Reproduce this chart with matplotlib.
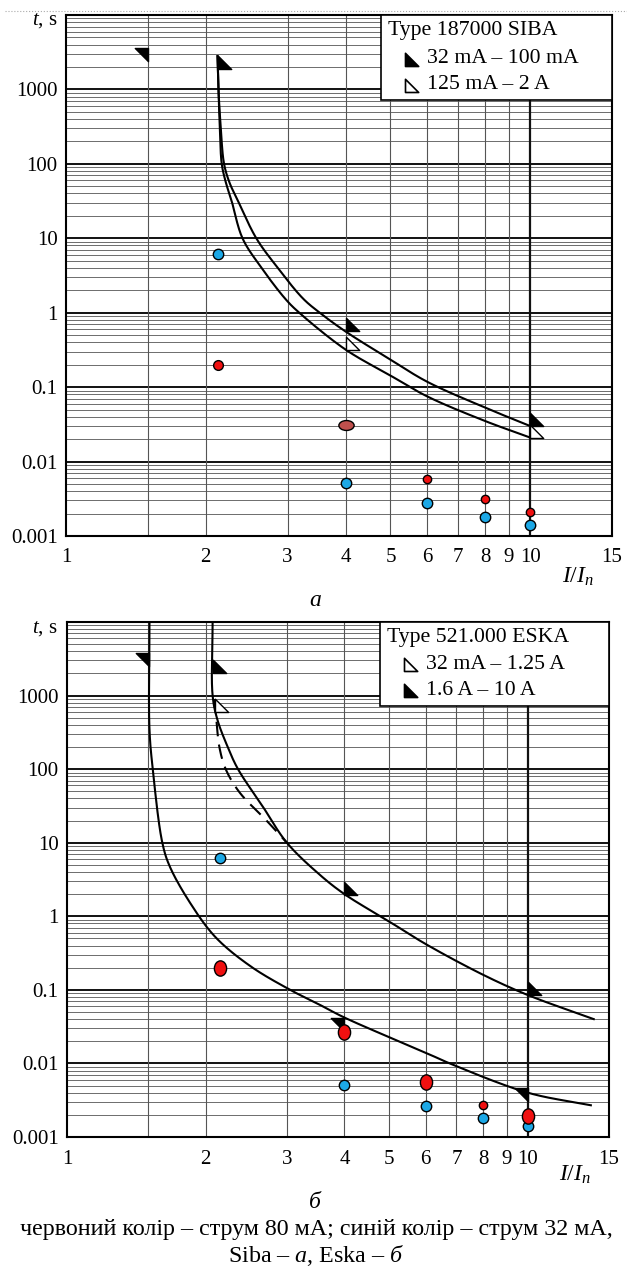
import numpy as np
import matplotlib.pyplot as plt
from matplotlib.markers import MarkerStyle
from matplotlib.path import Path
from matplotlib.patches import Rectangle
from matplotlib.transforms import Affine2D
from matplotlib.lines import Line2D

plt.rcParams['font.family'] = ['Liberation Serif', 'DejaVu Serif', 'DejaVu Sans']
plt.rcParams['mathtext.fontset'] = 'custom'
plt.rcParams['mathtext.rm'] = 'Liberation Serif'
plt.rcParams['mathtext.it'] = 'Liberation Serif:italic'

FS = 15
FS_LEG = 15.7
FS_CAP = 17.3

# ---------------- data: panel a (SIBA) ----------------
a_upper_x = [2.12, 2.13, 2.155, 2.19, 2.25, 2.34, 2.57, 2.85, 3.24, 3.52, 4.0, 5.0, 6.0, 8.0, 10.0]
a_upper_t = [2800, 1000, 300, 100, 56, 33, 10, 4.1, 1.55, 1.0, 0.56, 0.234, 0.118, 0.053, 0.030]
a_lower_x = [2.12, 2.13, 2.145, 2.165, 2.21, 2.27, 2.40, 2.63, 2.98, 3.18, 4.0, 5.0, 6.0, 8.0, 10.0]
a_lower_t = [2800, 1000, 300, 100, 56, 33, 10, 4.1, 1.49, 1.0, 0.32, 0.143, 0.075, 0.035, 0.021]
a_black_tri_x = [2.12, 4.0, 10.0]
a_black_tri_t = [1900, 0.56, 0.030]
a_white_tri_x = [4.0, 10.0]
a_white_tri_t = [0.32, 0.021]
a_stray_x = [1.5]
a_stray_t = [3600]

a_red_x = [2.13, 6, 8, 10]
a_red_t = [0.20, 0.0059, 0.0031, 0.0021]
a_brown_x = [4]
a_brown_t = [0.031]
a_blue_x = [2.13, 4, 6, 8, 10]
a_blue_t = [6.2, 0.0052, 0.0028, 0.0018, 0.0014]

# ---------------- data: panel b (ESKA) ----------------
b_left_x = [1.51, 1.51, 1.535, 1.61, 1.67, 1.85, 2.1, 2.5, 3.05, 3.53, 4.0, 6.0, 6.85, 10.0, 13.7]
b_left_t = [10000, 345, 100, 10, 4.8, 1.52, 0.52, 0.21, 0.1, 0.063, 0.042, 0.014, 0.0097, 0.0040, 0.0027]
b_right_x = [2.07, 2.07, 2.12, 2.23, 2.35, 2.66, 3.0, 3.53, 4.0, 5.0, 6.0, 8.0, 10.0, 13.9]
b_right_t = [10000, 1000, 470, 203, 100, 31, 10, 3.7, 2.0, 0.85, 0.42, 0.16, 0.085, 0.040]
b_dash_x = [2.09, 2.11, 2.14, 2.21, 2.37, 2.71, 3.0]
b_dash_t = [900, 470, 203, 100, 48, 20, 10]
b_black_tri_x = [2.07, 4.0, 10.0]
b_black_tri_t = [2000, 1.96, 0.085]
b_white_tri_x = [2.09]
b_white_tri_t = [590]
b_ur_tri_x = [1.51, 4.0, 10.0]
b_ur_tri_t = [3800, 0.042, 0.0047]

b_red_x = [2.15, 4, 6, 10]
b_red_t = [0.20, 0.027, 0.0056, 0.0019]
b_red_small_x = [8]
b_red_small_t = [0.0027]
b_blue_x = [2.15, 4, 6, 8, 10]
b_blue_t = [6.25, 0.0051, 0.0026, 0.0018, 0.0014]

x_ticks = [1, 2, 3, 4, 5, 6, 7, 8, 9, 10, 15]
x_grid = [1.5, 2, 3, 4, 5, 6, 7, 8, 9]
y_ticks = [1e-3, 1e-2, 1e-1, 1, 10, 100, 1000]
y_labels = ['0.001', '0.01', '0.1', '1', '10', '100', '1000']

BLUE = '#1ca8e6'
RED = '#f01010'
BROWN = '#c0504d'

W, H = 627, 1268
tri_ll = MarkerStyle(Path([(0, 0), (0, 1), (1, 0), (0, 0)], [1, 2, 2, 79]))
tri_ur = MarkerStyle(Path([(0, 0), (-1, 0), (0, -1), (0, 0)], [1, 2, 2, 79]))
ell_wide = MarkerStyle('o', transform=Affine2D().scale(1.0, 0.65))
ell_tall = MarkerStyle('o', transform=Affine2D().scale(0.8, 1.0))

fig = plt.figure(figsize=(W / 100, H / 100), dpi=100)


def px_axes(x0, y0, x1, y1):
    return fig.add_axes([x0 / W, 1 - y1 / H, (x1 - x0) / W, (y1 - y0) / H])


def ftext(x, y, s, **kw):
    fig.text(x / W, 1 - y / H, s, **kw)


def smooth(x, t, n=25, kx=6.25):
    # centripetal Catmull-Rom through the read points, in log-log space
    P = np.column_stack([np.log10(x) * kx, np.log10(t)])
    P = np.vstack([2 * P[0] - P[1], P, 2 * P[-1] - P[-2]])
    out = []
    for i in range(1, len(P) - 2):
        p0, p1, p2, p3 = P[i - 1:i + 3]
        t0 = 0.0
        t1 = t0 + np.linalg.norm(p1 - p0) ** 0.5
        t2 = t1 + np.linalg.norm(p2 - p1) ** 0.5
        t3 = t2 + np.linalg.norm(p3 - p2) ** 0.5
        s = np.linspace(t1, t2, n, endpoint=False)[:, None]
        A1 = (t1 - s) / (t1 - t0) * p0 + (s - t0) / (t1 - t0) * p1
        A2 = (t2 - s) / (t2 - t1) * p1 + (s - t1) / (t2 - t1) * p2
        A3 = (t3 - s) / (t3 - t2) * p2 + (s - t2) / (t3 - t2) * p3
        B1 = (t2 - s) / (t2 - t0) * A1 + (s - t0) / (t2 - t0) * A2
        B2 = (t3 - s) / (t3 - t1) * A2 + (s - t1) / (t3 - t1) * A3
        out.append((t2 - s) / (t2 - t1) * B1 + (s - t1) / (t2 - t1) * B2)
    out.append(P[-2][None])
    C = np.vstack(out)
    return 10 ** (C[:, 0] / kx), 10 ** C[:, 1]


def setup(ax):
    ax.set_xscale('log')
    ax.set_yscale('log')
    ax.set_xlim(1, 15)
    ax.set_ylim(1e-3, 1e4)
    for dec in range(-3, 4):
        for k in range(2, 10):
            ax.axhline(k * 10.0 ** dec, color='#555555', lw=0.6, zorder=1)
        ax.axhline(10.0 ** dec, color='#111111', lw=1.4, zorder=1)
    for xv in x_grid:
        ax.axvline(xv, color='#555555', lw=0.8, zorder=1)
    ax.axvline(10, color='#111111', lw=1.6, zorder=1)
    ax.set_xticks(x_ticks)
    ax.set_xticklabels([str(v) for v in x_ticks])
    ax.set_yticks(y_ticks)
    ax.set_yticklabels(y_labels)
    ax.minorticks_off()
    ax.tick_params(length=0, labelsize=FS)
    ax.tick_params(axis='x', pad=9)
    ax.tick_params(axis='y', pad=6)
    for sp in ax.spines.values():
        sp.set_linewidth(1.5)


def legend_box(ax, title, items):
    ax.add_patch(Rectangle((0.577, 0.836), 0.423, 0.164, transform=ax.transAxes,
                           facecolor='white', edgecolor='black', lw=1.2, zorder=5))
    ax.text(0.590, 0.970, title, transform=ax.transAxes, fontsize=FS_LEG, va='center', zorder=6)
    for (yy, filled, label) in items:
        ax.plot([0.621], [yy - 0.013], marker=tri_ll, ms=19, transform=ax.transAxes,
                mfc='black' if filled else 'white', mec='black', mew=1.2, zorder=6, clip_on=False)
        ax.text(0.662, yy, label, transform=ax.transAxes, fontsize=FS_LEG, va='center', zorder=6)


def dots(ax, x, t, color, ms, marker='o'):
    ax.plot(x, t, ls='none', marker=marker, ms=ms, mfc=color, mec='black', mew=1.0, zorder=4)


def curve(ax, x, t, **kw):
    sx, st = smooth(x, t)
    ax.plot(sx, st, color='black', lw=1.5, zorder=3, **kw)


# ---------------- panel a ----------------
ax1 = px_axes(66, 15, 612, 536)
setup(ax1)
curve(ax1, a_upper_x, a_upper_t)
curve(ax1, a_lower_x, a_lower_t)
ax1.plot(a_black_tri_x, a_black_tri_t, ls='none', marker=tri_ll, ms=19, mfc='black', mec='black', zorder=3)
ax1.plot(a_white_tri_x, a_white_tri_t, ls='none', marker=tri_ll, ms=19, mfc='white', mec='black', mew=1.0, zorder=3)
ax1.plot(a_stray_x, a_stray_t, ls='none', marker=tri_ur, ms=19, mfc='black', mec='black', zorder=3)
dots(ax1, a_blue_x, a_blue_t, BLUE, 7.5)
dots(ax1, a_red_x[:1], a_red_t[:1], RED, 7)
dots(ax1, a_red_x[1:], a_red_t[1:], RED, 6)
dots(ax1, a_brown_x, a_brown_t, BROWN, 11, ell_wide)
legend_box(ax1, 'Type 187000 SIBA',
           [(0.916, True, '32 mA – 100 mA'), (0.866, False, '125 mA – 2 A')])

# ---------------- panel b ----------------
ax2 = px_axes(67, 622, 609, 1137)
setup(ax2)
curve(ax2, b_left_x, b_left_t)
curve(ax2, b_right_x, b_right_t)
curve(ax2, b_dash_x, b_dash_t, ls=(0, (7, 4)))
ax2.plot(b_black_tri_x, b_black_tri_t, ls='none', marker=tri_ll, ms=19, mfc='black', mec='black', zorder=3)
ax2.plot(b_white_tri_x, b_white_tri_t, ls='none', marker=tri_ll, ms=19, mfc='white', mec='black', mew=1.0, zorder=3)
ax2.plot(b_ur_tri_x, b_ur_tri_t, ls='none', marker=tri_ur, ms=19, mfc='black', mec='black', zorder=3)
dots(ax2, b_blue_x, b_blue_t, BLUE, 7.5)
dots(ax2, b_red_x, b_red_t, RED, 11, ell_tall)
dots(ax2, b_red_small_x, b_red_small_t, RED, 6)
legend_box(ax2, 'Type 521.000 ESKA',
           [(0.917, False, '32 mA – 1.25 A'), (0.867, True, '1.6 A – 10 A')])

# ---------------- labels ----------------
ftext(58, 20, r'$t$, s', fontsize=FS, ha='right', va='center')
ftext(58, 628, r'$t$, s', fontsize=FS, ha='right', va='center')
ftext(578, 577, r'$I/I_n$', fontsize=FS + 2, ha='center', va='center')
ftext(575, 1175, r'$I/I_n$', fontsize=FS + 2, ha='center', va='center')
ftext(315, 601, 'a', fontsize=FS + 2, style='italic', ha='center', va='center')
ftext(315, 1202, 'б', fontsize=FS + 2, style='italic', ha='center', va='center')
ftext(316, 1230, 'червоний колір – струм 80 мА; синій колір – струм 32 мА,',
      fontsize=FS_CAP, ha='center', va='center')
ftext(316, 1256, r'Siba – $\mathit{a}$, Eska – $\mathit{б}$', fontsize=FS_CAP, ha='center', va='center')

fig.add_artist(Line2D([5 / W, 1], [1 - 11 / H, 1 - 11 / H], color='#aaaaaa', lw=0.8, ls=':'))

fig.savefig('out.png', dpi=100)
